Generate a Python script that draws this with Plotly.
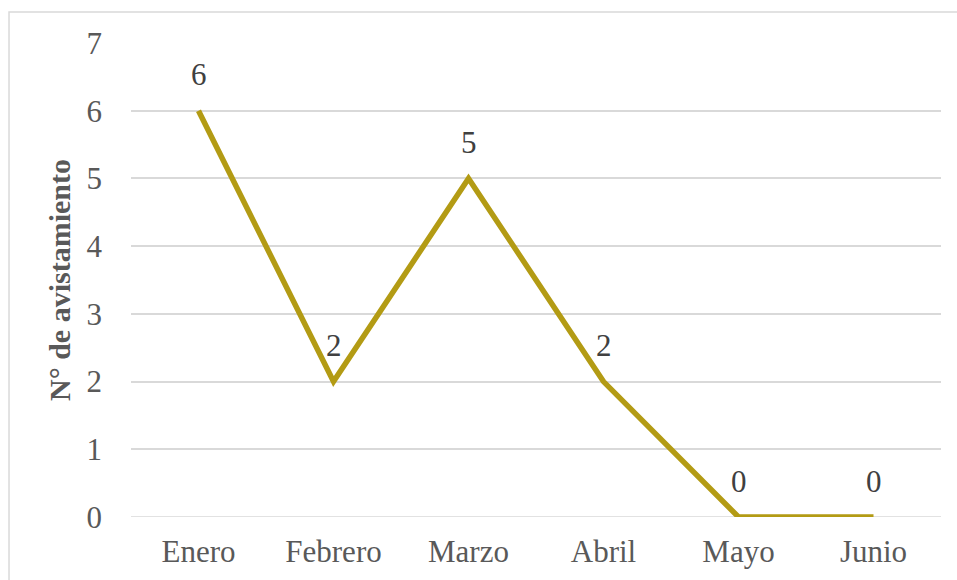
import plotly.graph_objects as go

meses = ["Enero", "Febrero", "Marzo", "Abril", "Mayo", "Junio"]
avistamientos = [6, 2, 5, 2, 0, 0]
y_ticks = [0, 1, 2, 3, 4, 5, 6, 7]

line_color = "#B39B14"
font_family = "Liberation Serif, Times New Roman, serif"

fig = go.Figure()
fig.add_trace(go.Scatter(
    x=meses, y=avistamientos, mode="lines",
    line=dict(color=line_color, width=5.5),
    hoverinfo="skip", showlegend=False,
))

for m, v in zip(meses, avistamientos):
    fig.add_annotation(x=m, y=v, text=str(v), showarrow=False,
                       yshift=36, font=dict(family=font_family, size=31, color="#404040"))

fig.add_shape(type="rect", xref="paper", yref="paper",
              x0=-0.1506, x1=1.04, y0=-0.16, y1=1.0654,
              line=dict(color="#D9D9D9", width=1.5), layer="below")

fig.update_layout(
    width=957, height=580,
    margin=dict(l=131, r=16, t=43, b=63),
    paper_bgcolor="white", plot_bgcolor="white",
    font=dict(family=font_family, size=31, color="#595959"),
    xaxis=dict(type="category", range=[-0.5, 5.5], showgrid=False,
               showline=False, zeroline=False, ticks="",
               tickfont=dict(family=font_family, size=31, color="#595959"),
               ticklabelstandoff=13),
    yaxis=dict(range=[0, 7], tickvals=y_ticks, showgrid=True,
               gridcolor="#D9D9D9", gridwidth=1.5, zeroline=False,
               showline=False, ticks="",
               tickfont=dict(family=font_family, size=31, color="#595959"),
               ticklabelstandoff=28,
               title=dict(text="<b>N° de avistamiento</b>", standoff=7,
                          font=dict(family=font_family, size=30, color="#595959"))),
)
fig.add_hline(y=0, line=dict(color="#D9D9D9", width=1.5), layer="below")

fig.write_html("out.html")
